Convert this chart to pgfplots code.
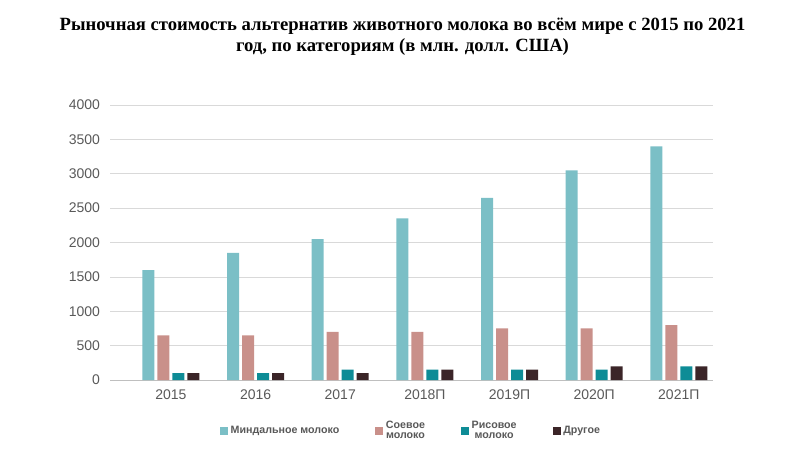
\documentclass[border=0pt]{standalone}
\usepackage{fontspec}
\setmainfont{Liberation Serif}
\newfontfamily\arial{Liberation Sans}
\usepackage{pgfplots}
\pgfplotsset{compat=1.18}
\definecolor{almond}{HTML}{7BBFC6}
\definecolor{soy}{HTML}{C9908A}
\definecolor{rice}{HTML}{0E8C96}
\definecolor{other}{HTML}{3B2528}
\definecolor{tick}{HTML}{595959}
\begin{document}
\begin{tikzpicture}
\path (0,0) rectangle (603.75pt,351.75pt);
\node[font=\bfseries\fontsize{14}{16}\selectfont, align=center] at (301.9pt,324pt)
 {Рыночная стоимость альтернатив животного молока во всём мире с 2015 по 2021\\год, по категориям (в млн. долл. США)};
\begin{axis}[
 at={(82.5pt,66.75pt)}, anchor=south west,
 scale only axis, width=452pt, height=206.25pt,
 ybar=2.25pt, bar width=9pt,
 xmin=-0.72, xmax=6.4, ymin=0, ymax=4000,
 ytick={0,500,...,4000},
 xtick={0,...,6},
 xticklabels={2015,2016,2017,2018П,2019П,2020П,2021П},
 ymajorgrids, grid style={draw=black!15},
 axis x line*=bottom, axis y line*=left,
 x axis line style={draw=black!25}, y axis line style={draw=none},
 major tick length=0pt,
 tick label style={font=\arial\fontsize{10.5}{12}\selectfont, text=tick},
 /pgf/number format/assume math mode=true,
 /pgf/number format/1000 sep={},
 yticklabel style={xshift=-4pt},
 xticklabel style={yshift=-4pt},
 legend style={at={(0.5,-0.13)}, anchor=north, draw=none, legend columns=4,
   font=\arial\fontsize{8}{9}\selectfont\bfseries, text=tick,
   /tikz/every even column/.append style={column sep=25pt}},
 legend cell align=center,
 legend image code/.code={\fill[#1] (0pt,-3pt) rectangle (6pt,3pt);},
]
\addplot[fill=almond, draw=none] coordinates {(0,1600)(1,1850)(2,2050)(3,2350)(4,2650)(5,3050)(6,3400)};
\addplot[fill=soy, draw=none] coordinates {(0,650)(1,650)(2,700)(3,700)(4,750)(5,750)(6,800)};
\addplot[fill=rice, draw=none] coordinates {(0,100)(1,100)(2,150)(3,150)(4,150)(5,150)(6,200)};
\addplot[fill=other, draw=none] coordinates {(0,100)(1,100)(2,100)(3,150)(4,150)(5,200)(6,200)};
\legend{Миндальное молоко,{\shortstack{Соевое\\молоко}},{\shortstack{Рисовое\\молоко}},Другое}
\end{axis}
\end{tikzpicture}
\end{document}
